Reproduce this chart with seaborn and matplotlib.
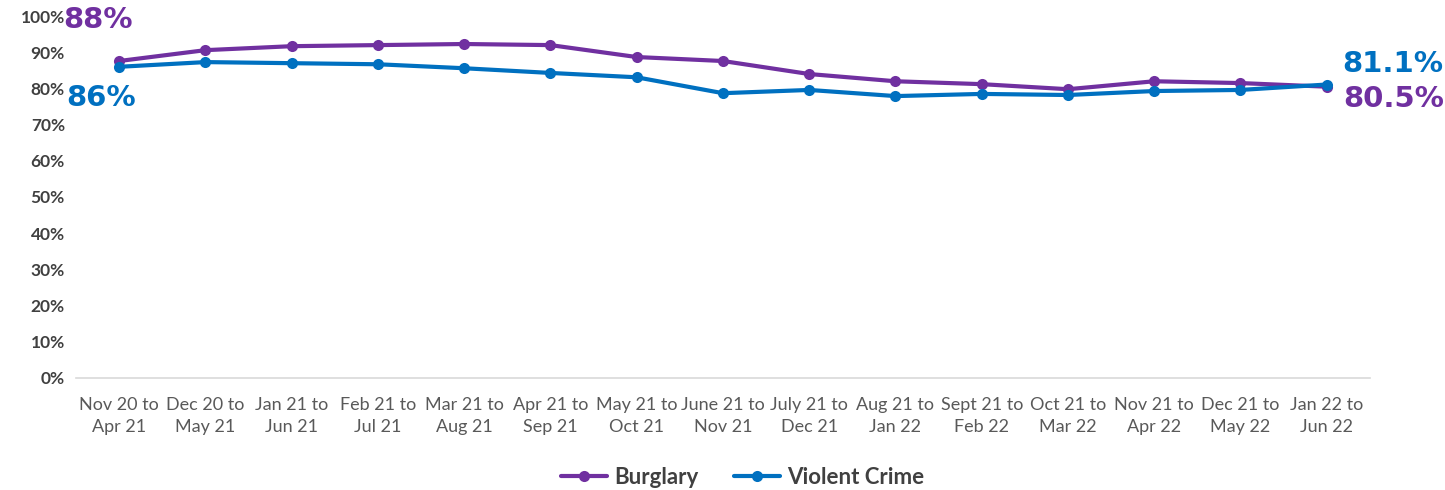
import matplotlib
matplotlib.use("Agg")
import matplotlib.pyplot as plt
import seaborn as sns
import pandas as pd

periods = ["Nov 20 to\nApr 21", "Dec 20 to\nMay 21", "Jan 21 to\nJun 21", "Feb 21 to\nJul 21",
           "Mar 21 to\nAug 21", "Apr 21 to\nSep 21", "May 21 to\nOct 21", "June 21 to\nNov 21",
           "July 21 to\nDec 21", "Aug 21 to\nJan 22", "Sept 21 to\nFeb 22", "Oct 21 to\nMar 22",
           "Nov 21 to\nApr 22", "Dec 21 to\nMay 22", "Jan 22 to\nJun 22"]
burglary = [87.6, 90.6, 91.7, 92.0, 92.3, 92.0, 88.7, 87.6, 84.0, 82.0, 81.2, 79.8, 82.0, 81.5, 80.5]
violent = [86.0, 87.3, 87.0, 86.7, 85.6, 84.3, 83.1, 78.7, 79.6, 77.9, 78.5, 78.2, 79.3, 79.6, 81.1]
series_names = ["Burglary", "Violent Crime"]
colors = {"Burglary": "#7030A0", "Violent Crime": "#0070C0"}

df = pd.DataFrame({
    "idx": list(range(len(periods))) * 2,
    "value": burglary + violent,
    "series": [series_names[0]] * len(periods) + [series_names[1]] * len(periods),
})

sns.set_theme(style="white")
plt.rcParams['font.family'] = ['Lato', 'DejaVu Sans']

fig = plt.figure(figsize=(14.45, 4.9), dpi=100)
ax = fig.add_axes([0.0526, 0.229, 0.8954, 0.738])

sns.lineplot(data=df, x="idx", y="value", hue="series", palette=colors, marker="o",
             markersize=8, linewidth=3, markeredgewidth=0, ax=ax, legend=True)

ax.set_xlim(-0.5, len(periods) - 0.5)
ax.set_ylim(0, 100)
ax.set_yticks(range(0, 101, 10))
ax.set_yticklabels([f"{v}%" for v in range(0, 101, 10)], fontsize=12.5, color="#404040", fontweight="bold")
ax.set_xticks(range(len(periods)))
ax.set_xticklabels(periods, fontsize=13, color="#595959", linespacing=1.45)
ax.tick_params(axis="y", length=0, pad=8)
ax.tick_params(axis="x", length=0, pad=14)
ax.set_xlabel("")
ax.set_ylabel("")
for s in ["top", "right", "left"]:
    ax.spines[s].set_visible(False)
ax.spines["bottom"].set_color("#D9D9D9")
ax.spines["bottom"].set_linewidth(1.2)

ax.text(-0.25, 99.0, f"{burglary[0]:.0f}%", color=colors["Burglary"], fontsize=21, fontweight="bold",
        ha="center", va="center", family="DejaVu Sans", clip_on=False)
ax.text(-0.21, 77.5, f"{violent[0]:.0f}%", color=colors["Violent Crime"], fontsize=21, fontweight="bold",
        ha="center", va="center", family="DejaVu Sans")
ax.text(14.77, 86.7, f"{violent[-1]:.1f}%", color=colors["Violent Crime"], fontsize=21, fontweight="bold",
        ha="center", va="center", family="DejaVu Sans", clip_on=False)
ax.text(14.78, 77.1, f"{burglary[-1]:.1f}%", color=colors["Burglary"], fontsize=21, fontweight="bold",
        ha="center", va="center", family="DejaVu Sans", clip_on=False)

leg = ax.legend(loc="center", bbox_to_anchor=(0.515, -0.276), ncol=2, frameon=False,
                fontsize=16, handlelength=2.1, columnspacing=1.6, handletextpad=0.3)
for t in leg.get_texts():
    t.set_color("#404040")
    t.set_fontweight("bold")

fig.savefig("out.png", dpi=100)
